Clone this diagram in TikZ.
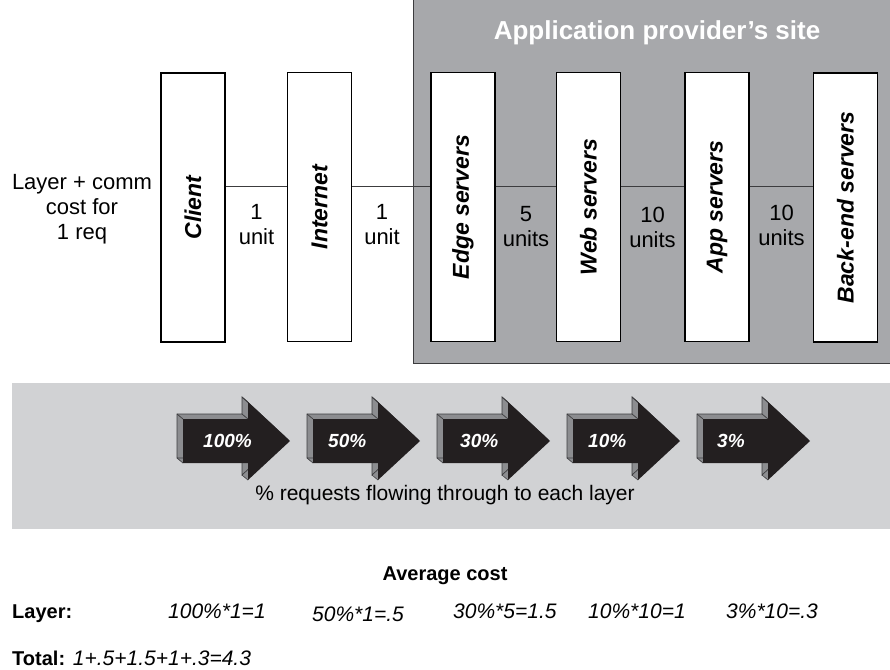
\documentclass[tikz,border=0pt]{standalone}
\usepackage{fontspec}
\setmainfont{Liberation Sans}
\usetikzlibrary{calc}
\definecolor{sitegray}{RGB}{167,168,171}
\definecolor{bandgray}{RGB}{209,210,212}
\definecolor{arrowblack}{RGB}{35,31,32}
\definecolor{sidegray}{RGB}{140,141,144}
\definecolor{edgegray}{RGB}{60,60,62}
\tikzset{
  layer/.style={draw=black, line width=1.3pt, fill=white, rotate=90,
    minimum width=269pt, minimum height=64pt, inner sep=0pt,
    font=\fontsize{23}{27}\selectfont\bfseries\itshape},
  cost/.style={align=center, inner sep=0pt, font=\fontsize{22}{25}\selectfont},
  link/.style={draw=edgegray, line width=1pt},
  pct/.style={text=white, anchor=west, inner sep=0pt, font=\fontsize{19}{22}\selectfont\bfseries\itshape},
  sumtext/.style={anchor=base west, inner sep=0pt, font=\fontsize{21}{24}\selectfont\itshape},
  boldtext/.style={inner sep=0pt, font=\fontsize{20}{24}\selectfont\bfseries},
  flowshape/.style={insert path={(0,-22) -- (65,-22) -- (65,-39) -- (107,0)
    -- (65,39) -- (65,22) -- (0,22) -- cycle}}
}

\begin{document}
\begin{tikzpicture}[x=1pt,y=-1pt]
  \useasboundingbox (0,0) rectangle (890,669);

  % Provider's site
  \fill[sitegray] (413,0) rectangle (890,363);
  \draw[edgegray, line width=1pt] (413,0) -- (413,363) -- (890,363);
  \node[anchor=base, inner sep=0pt, text=white, font=\fontsize{26}{30}\selectfont\bfseries]
    (site) at (657,40) {Application provider’s site};

  % Layers
  \node[cost] (req) at (82,209) {Layer + comm\\cost for\\1 req};
  \node[layer] (client) at (193,207.5) {Client};
  \node[layer] (internet) at (319.5,207) {Internet};
  \node[layer] (edge) at (463,207) {Edge servers};
  \node[layer] (web) at (588.5,207) {Web servers};
  \node[layer] (app) at (717,207) {App servers};
  \node[layer] (backend) at (845.5,207.5) {Back-end servers};

  % Links at one height
  \coordinate (wire) at (0,186);
  \draw[link] (client.south |- wire) -- (internet.north |- wire);
  \draw[link] (internet.south |- wire) -- (edge.north |- wire);
  \draw[link] (edge.south |- wire) -- (web.north |- wire);
  \draw[link] (web.south |- wire) -- (app.north |- wire);
  \draw[link] (app.south |- wire) -- (backend.north |- wire);

  % Costs
  \node[cost] (c1) at (256.5,225) {1\\unit};
  \node[cost] (c2) at (382,225) {1\\unit};
  \node[cost] (c3) at (526,227) {5\\units};
  \node[cost] (c4) at (652.5,227) {10\\units};
  \node[cost] (c5) at (781.5,225) {10\\units};

  % Request band
  \fill[bandgray] (12,383) rectangle (890,529);
  \foreach \x/\p/\d [count=\i] in {183/100\%/20,313/50\%/15,443/30\%/17,573/10\%/15,703/3\%/14}{
    \begin{scope}[shift={(\x,441)}]
      \foreach \k in {0.5,1,...,6}
        \fill[sidegray, shift={(-\k,-0.833*\k)}, flowshape];
      \draw[edgegray, line width=0.7pt, shift={(-6,-5)}, flowshape];
      \foreach \v in {(0,-22),(0,22),(65,-39),(65,39),(65,-22)}
        \draw[edgegray, line width=0.7pt] \v -- ++(-6,-5);
      \fill[arrowblack, flowshape];
      \node[pct] (pct\i) at (\d,0) {\p};
    \end{scope}
  }
  \node[anchor=base, inner sep=0pt, font=\fontsize{21}{24}\selectfont]
    (flow) at (445,500) {\% requests flowing through to each layer};

  % Average cost
  \node[boldtext, anchor=base] (avg) at (445,580) {Average cost};
  \node[boldtext, anchor=base west] (lay) at (12,618) {Layer:};
  \node[sumtext] (s1) at (168,618) {100\%*1=1};
  \node[sumtext] (s2) at (312,621) {50\%*1=.5};
  \node[sumtext] (s3) at (453,618) {30\%*5=1.5};
  \node[sumtext] (s4) at (588,618) {10\%*10=1};
  \node[sumtext] (s5) at (726,618) {3\%*10=.3};
  \node[sumtext] (tot) at (12,665) {{\bfseries\upshape\fontsize{20}{24}\selectfont Total:} 1+.5+1.5+1+.3=4.3};
\end{tikzpicture}
\end{document}
